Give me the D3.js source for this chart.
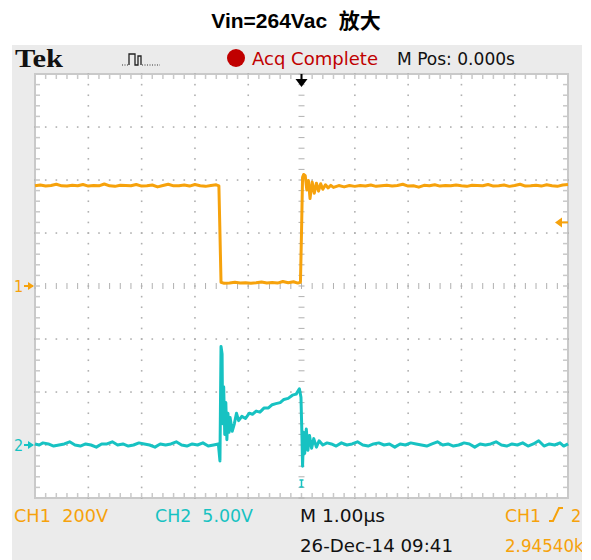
<!DOCTYPE html>
<html>
<head>
<meta charset="utf-8">
<script src="https://cdn.jsdelivr.net/npm/d3@7"></script>
<style>
  body { margin: 0; background: #fff; }
  svg { display: block; }
  .scope { font-family: "Liberation Sans Narrow", "DejaVu Sans Condensed", "Liberation Sans", sans-serif; font-size: 18px; }
</style>
</head>
<body>
<svg width="591" height="560"></svg>
<script>
// --- data ---
const title = "Vin=264Vac  放大";
// CH1: [time us, volts], 200 V/div, ground on centre line
const ch1 = [
  [-5.0,378],[-4.9,381],[-4.8,377],[-4.7,379],[-4.6,384],[-4.5,378],[-4.4,377],[-4.3,380],[-4.2,378],[-4.1,383],
  [-4.0,377],[-3.9,379],[-3.8,378],[-3.7,385],[-3.6,378],[-3.5,376],[-3.4,380],[-3.3,379],[-3.2,378],[-3.1,383],
  [-3.0,377],[-2.9,378],[-2.8,381],[-2.7,374],[-2.6,379],[-2.5,384],[-2.4,378],[-2.3,378],[-2.2,381],[-2.1,377],
  [-2.0,383],[-1.9,378],[-1.8,376],[-1.7,379],[-1.6,382],[-1.55,378],[-1.53,200],[-1.51,14],
  [-1.45,10],[-1.35,11],[-1.25,14],[-1.15,11],[-1.05,12],[-0.95,10],[-0.85,12],[-0.75,15],[-0.65,11],[-0.55,13],
  [-0.45,11],[-0.35,17],[-0.25,12],[-0.15,16],[-0.07,11],[-0.02,14],
  [0.0,200],[0.02,410],[0.04,421],[0.07,416],[0.1,362],[0.13,398],[0.16,330],[0.2,392],[0.24,350],[0.28,388],
  [0.32,358],[0.36,386],[0.4,365],[0.45,382],[0.5,370],[0.55,380],[0.6,372],[0.7,379],[0.8,374],[0.9,379],
  [1.0,376],[1.1,379],[1.2,377],[1.3,381],[1.4,376],[1.5,378],[1.6,380],[1.7,377],[1.8,379],[1.9,384],
  [2.0,377],[2.1,378],[2.2,373],[2.3,380],[2.4,378],[2.5,382],[2.6,377],[2.7,379],[2.8,378],[2.9,381],
  [3.0,378],[3.1,376],[3.2,380],[3.3,379],[3.4,378],[3.5,383],[3.6,377],[3.7,378],[3.8,381],[3.9,376],
  [4.0,379],[4.1,384],[4.2,377],[4.3,378],[4.4,380],[4.5,377],[4.6,382],[4.7,378],[4.8,376],[4.9,381],[5.0,383]
];
// CH2: [time us, volts], 5 V/div, ground 3 div below centre
const ch2 = [
  [-5.0,0.1],[-4.92,0.0],[-4.85,0.2],[-4.75,0.1],[-4.65,-0.1],[-4.55,0.0],[-4.45,0.1],[-4.35,0.3],[-4.25,0.0],[-4.15,-0.1],
  [-4.05,0.1],[-3.95,0.0],[-3.85,-0.2],[-3.75,0.1],[-3.65,0.1],[-3.55,0.3],[-3.45,0.0],[-3.35,0.1],[-3.25,-0.1],[-3.15,0.0],
  [-3.05,0.2],[-2.95,0.1],[-2.85,0.0],[-2.75,-0.2],[-2.65,0.1],[-2.55,0.0],[-2.45,0.1],[-2.35,0.3],[-2.25,0.0],[-2.15,-0.1],
  [-2.05,0.1],[-1.95,0.0],[-1.85,0.2],[-1.75,-0.1],[-1.65,0.0],[-1.56,0.1],[-1.53,-1.5],[-1.51,9.3],[-1.49,8.6],[-1.48,2.0],
  [-1.46,5.5],[-1.44,1.0],[-1.42,4.0],[-1.40,0.5],[-1.38,3.0],[-1.36,1.2],[-1.34,2.6],[-1.30,1.3],[-1.26,2.0],[-1.22,3.0],
  [-1.18,2.3],[-1.12,2.7],[-1.05,2.5],[-0.98,3.0],[-0.92,2.9],[-0.85,3.2],[-0.78,3.1],[-0.7,3.5],[-0.62,3.5],[-0.55,3.8],
  [-0.48,3.9],[-0.4,4.0],[-0.33,4.3],[-0.25,4.4],[-0.17,4.7],[-0.1,4.8],[-0.04,5.3],[-0.01,4.5],[0.01,0.5],[0.02,-2.0],
  [0.04,1.2],[0.06,-0.8],[0.09,1.5],[0.12,-0.5],[0.15,0.9],[0.19,-0.3],[0.23,0.6],[0.28,-0.2],[0.33,0.4],[0.4,0.0],
  [0.48,0.2],[0.56,0.1],[0.65,-0.1],[0.75,0.2],[0.85,0.0],[0.95,0.1],[1.05,0.3],[1.15,0.0],[1.25,-0.1],[1.35,0.1],
  [1.45,0.2],[1.55,0.0],[1.65,0.1],[1.75,-0.2],[1.85,0.1],[1.95,0.0],[2.05,0.2],[2.15,0.1],[2.25,0.0],[2.35,-0.1],
  [2.45,0.1],[2.55,0.3],[2.65,0.0],[2.75,0.1],[2.85,-0.1],[2.95,0.0],[3.05,0.2],[3.15,0.1],[3.25,-0.2],[3.35,0.1],
  [3.45,0.0],[3.55,0.1],[3.65,0.3],[3.75,0.0],[3.85,-0.1],[3.95,0.1],[4.05,0.0],[4.15,0.2],[4.25,-0.1],[4.35,0.1],
  [4.45,0.4],[4.55,-0.1],[4.65,0.1],[4.75,0.0],[4.85,0.2],[4.92,-0.1],[5.0,0.1]
];
const trigLevel = 240; // V on CH1
const topLabels = ["Acq Complete", "M Pos: 0.000s"];
const bottomRow1 = ["CH1  200V", "CH2  5.00V", "M 1.00\u00b5s"];
const bottomRow2 = ["26-Dec-14 09:41", "2.94540kHz"];

const ORANGE = "#f6a20c", CYAN = "#17c2c2", GRID = "#b0b0b0";

const svg = d3.select("svg");
const L = 35, R = 568, T = 74, B = 498;
const x = d3.scaleLinear().domain([-5, 5]).range([L, R]);
const y1 = d3.scaleLinear().domain([-800, 800]).range([B, T]);
const y2 = d3.scaleLinear().domain([-5, 35]).range([B, T]);
const div = d3.scaleLinear().domain([-4, 4]).range([B, T]);

// title
svg.append("text").attr("x", 296).attr("y", 28).attr("text-anchor", "middle").attr("xml:space", "preserve")
  .style("font-family", "'Liberation Sans', Arial, 'Noto Sans CJK SC', sans-serif")
  .style("font-weight", "bold").style("font-size", "21px").text(title);

// scope panel
svg.append("defs").append("clipPath").attr("id", "panel")
  .append("rect").attr("x", 12).attr("y", 45).attr("width", 570).attr("height", 515);
svg.append("rect").attr("x", 12).attr("y", 45).attr("width", 570).attr("height", 515).attr("fill", "#ebebeb");
svg.append("rect").attr("x", L).attr("y", T).attr("width", R - L).attr("height", B - T)
  .attr("fill", "#fff").attr("stroke", "#c9c9c9").attr("stroke-width", 2);

// grid dots and ticks
const gridG = svg.append("g");
const sub = d3.range(-25, 26).map(d => d / 5);   // x in us
const subY = d3.range(-20, 21).map(d => d / 5);  // y in div
d3.range(-4, 5).forEach(gx => {
  if (gx === 0) return;
  subY.forEach(s => gridG.append("rect").attr("x", x(gx) - 0.75).attr("y", div(s) - 0.75)
    .attr("width", 1.6).attr("height", 1.6).attr("fill", GRID));
});
d3.range(-3, 4).forEach(gy => {
  if (gy === 0) return;
  sub.forEach(s => gridG.append("rect").attr("x", x(s) - 0.75).attr("y", div(gy) - 0.75)
    .attr("width", 1.6).attr("height", 1.6).attr("fill", GRID));
});
// centre lines with minor ticks
sub.forEach(s => {
  gridG.append("line").attr("x1", x(s)).attr("x2", x(s)).attr("y1", div(0) - 3).attr("y2", div(0) + 3)
    .attr("stroke", GRID).attr("stroke-width", 1);
  gridG.append("line").attr("x1", x(s)).attr("x2", x(s)).attr("y1", T).attr("y2", T + 5)
    .attr("stroke", "#c9c9c9").attr("stroke-width", 1.5);
  gridG.append("line").attr("x1", x(s)).attr("x2", x(s)).attr("y1", B - 5).attr("y2", B)
    .attr("stroke", "#c9c9c9").attr("stroke-width", 1.5);
});
subY.forEach(s => {
  gridG.append("line").attr("x1", x(0) - 3).attr("x2", x(0) + 3).attr("y1", div(s)).attr("y2", div(s))
    .attr("stroke", GRID).attr("stroke-width", 1);
  gridG.append("line").attr("x1", L).attr("x2", L + 5).attr("y1", div(s)).attr("y2", div(s))
    .attr("stroke", "#c9c9c9").attr("stroke-width", 1.5);
  gridG.append("line").attr("x1", R - 5).attr("x2", R).attr("y1", div(s)).attr("y2", div(s))
    .attr("stroke", "#c9c9c9").attr("stroke-width", 1.5);
});

// traces
svg.append("path").datum(ch1).attr("fill", "none").attr("stroke", ORANGE).attr("stroke-width", 3)
  .attr("stroke-linejoin", "round").attr("d", d3.line().x(d => x(d[0])).y(d => y1(d[1])));
svg.append("path").datum(ch2).attr("fill", "none").attr("stroke", CYAN).attr("stroke-width", 3)
  .attr("stroke-linejoin", "round").attr("d", d3.line().x(d => x(d[0])).y(d => y2(d[1])));

// channel ground markers
const marker = (label, yy, color) => {
  svg.append("text").attr("class", "scope").attr("x", 14).attr("y", yy + 6).attr("fill", color)
    .style("font-size", "16px").text(label);
  svg.append("line").attr("x1", 24).attr("x2", 33).attr("y1", yy).attr("y2", yy).attr("stroke", color).attr("stroke-width", 2);
  svg.append("path").attr("d", `M28,${yy - 4}L34,${yy}L28,${yy + 4}Z`).attr("fill", color);
};
marker("1", y1(0), ORANGE);
marker("2", y2(0), CYAN);

// trigger level arrow (right)
const ty = y1(trigLevel);
svg.append("line").attr("x1", 560).attr("x2", 568).attr("y1", ty).attr("y2", ty).attr("stroke", ORANGE).attr("stroke-width", 2);
svg.append("path").attr("d", `M555,${ty}L562,${ty - 5}L562,${ty + 5}Z`).attr("fill", ORANGE);

// trigger position marker (top) and small cyan mark (bottom)
const tx = x(0);
svg.append("line").attr("x1", tx).attr("x2", tx).attr("y1", T).attr("y2", 82).attr("stroke", "#000").attr("stroke-width", 2);
svg.append("path").attr("d", `M${tx - 6},79L${tx + 6},79L${tx},87Z`).attr("fill", "#000");
svg.append("path").attr("d", `M${tx - 2},480H${tx + 2}M${tx},480V487M${tx - 2},487H${tx + 2}`)
  .attr("stroke", CYAN).attr("stroke-width", 1.5).attr("fill", "none");

// header
svg.append("text").attr("x", 15).attr("y", 67).attr("textLength", 48).attr("lengthAdjust", "spacingAndGlyphs")
  .style("font-family", "'Liberation Serif', 'DejaVu Serif', serif").style("font-weight", "bold")
  .style("font-size", "25px").attr("fill", "#111").text("Tek");
svg.append("path").attr("d", "M122,65H129").attr("stroke", "#333").attr("stroke-width", 1.2).attr("stroke-dasharray", "1,1.5");
svg.append("path").attr("d", "M129,65V54H135V65H138V56H141V65").attr("fill", "none").attr("stroke", "#222").attr("stroke-width", 1.3);
svg.append("path").attr("d", "M142,65H160").attr("stroke", "#333").attr("stroke-width", 1.2).attr("stroke-dasharray", "1,1.5");
svg.append("circle").attr("cx", 236).attr("cy", 58).attr("r", 9).attr("fill", "#c00000");
svg.append("text").attr("class", "scope").attr("x", 252).attr("y", 65).attr("textLength", 126)
  .attr("lengthAdjust", "spacingAndGlyphs").attr("fill", "#c00000").text(topLabels[0]);
svg.append("text").attr("class", "scope").attr("x", 397).attr("y", 65).attr("textLength", 118)
  .attr("lengthAdjust", "spacingAndGlyphs").attr("fill", "#111").text(topLabels[1]);

// footer
const foot = svg.append("g").attr("clip-path", "url(#panel)");
const row1 = [[14, 94, ORANGE], [155, 98, CYAN], [300, 85, "#111"]];
bottomRow1.forEach((t, i) => foot.append("text").attr("class", "scope").attr("x", row1[i][0]).attr("y", 522)
  .attr("textLength", row1[i][1]).attr("lengthAdjust", "spacingAndGlyphs").attr("fill", row1[i][2])
  .attr("xml:space", "preserve").text(t));
foot.append("text").attr("class", "scope").attr("x", 505).attr("y", 522).attr("textLength", 36)
  .attr("lengthAdjust", "spacingAndGlyphs").attr("fill", ORANGE).text("CH1");
foot.append("path").attr("d", "M549,521H553L559,508H563").attr("fill", "none").attr("stroke", ORANGE).attr("stroke-width", 2);
foot.append("text").attr("class", "scope").attr("x", 571).attr("y", 522).attr("fill", ORANGE).text("2");
foot.append("text").attr("class", "scope").attr("x", 300).attr("y", 552).attr("textLength", 153)
  .attr("lengthAdjust", "spacingAndGlyphs").attr("fill", "#111").text(bottomRow2[0]);
foot.append("text").attr("class", "scope").attr("x", 505).attr("y", 552).attr("textLength", 100)
  .attr("lengthAdjust", "spacingAndGlyphs").attr("fill", ORANGE).text(bottomRow2[1]);
</script>
</body>
</html>
